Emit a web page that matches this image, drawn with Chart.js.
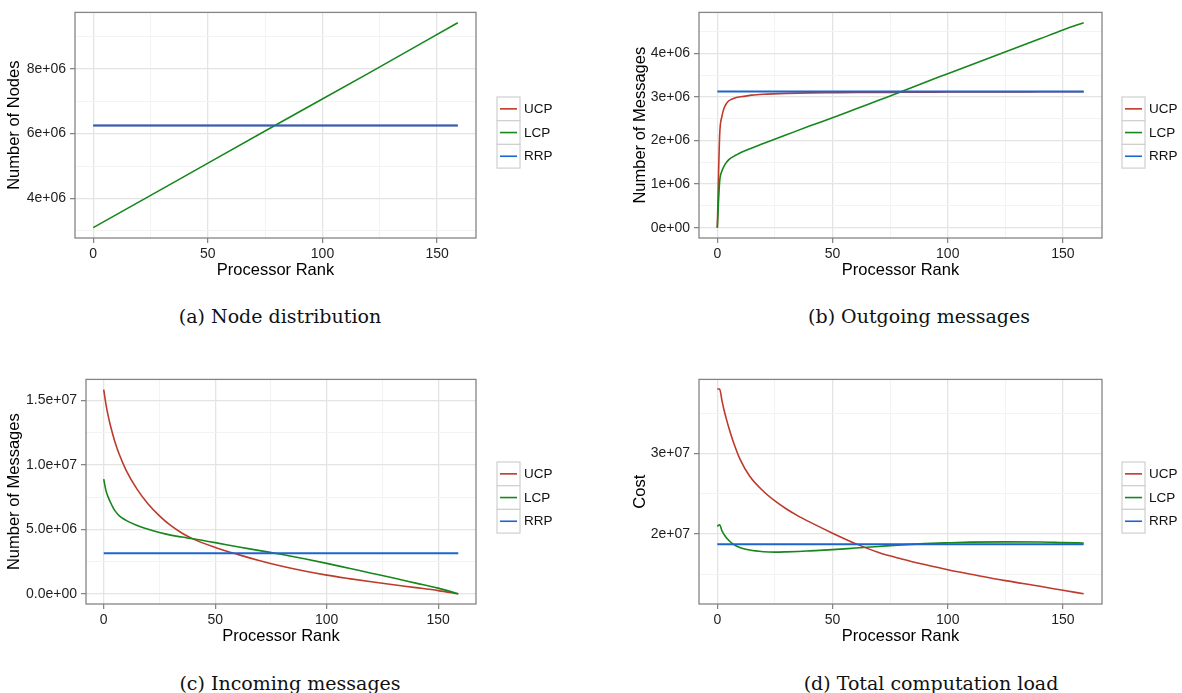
<!DOCTYPE html>
<html>
<head>
<meta charset="utf-8">
<script src="https://cdn.jsdelivr.net/npm/chart.js@4.4.1/dist/chart.umd.min.js"></script>
<style>
  body { margin: 0; background: #fff; width: 1182px; height: 693px; position: relative; overflow: hidden; }
  canvas { position: absolute; }
  .cap { position: absolute; width: 420px; text-align: center; white-space: pre;
         font-family: "DejaVu Serif", "Liberation Serif", serif; font-size: 19px; line-height: 24px; color: #111; }
</style>
</head>
<body>
<canvas id="nodes" width="591" height="285" style="left:0;top:0"></canvas>
<canvas id="outgoing" width="591" height="285" style="left:591px;top:0"></canvas>
<canvas id="incoming" width="591" height="284" style="left:0;top:367px"></canvas>
<canvas id="cost" width="591" height="284" style="left:591px;top:367px"></canvas>
<div class="cap" style="left:70px;top:304px">(a) Node distribution</div>
<div class="cap" style="left:709px;top:304px">(b) Outgoing messages</div>
<div class="cap" style="left:80px;top:671px">(c) Incoming messages</div>
<div class="cap" style="left:721px;top:671px">(d) Total computation load</div>
<script>
var seriesNames = ["UCP", "LCP", "RRP"];
var seriesColors = ["#bd3a2c", "#17861b", "#1d64cf"];
var seriesWidths = [1.6, 1.6, 2];

var xTicks = [0, 50, 100, 150];
var xMinor = [25, 75, 125];

// (a) node distribution
var nodeRank = [0, 40, 80, 120, 159];
var nodeUCP = [6.25e6, 6.25e6, 6.25e6, 6.25e6, 6.25e6];
var nodeLCP = [3.10e6, 4.69e6, 6.28e6, 7.86e6, 9.42e6];
var nodeRRP = [6.25e6, 6.25e6, 6.25e6, 6.25e6, 6.25e6];
var nodeTicks = [4e6, 6e6, 8e6];
var nodeLabels = ["4e+06", "6e+06", "8e+06"];
var nodeMinor = [3e6, 5e6, 7e6, 9e6];

// (b) outgoing messages
var outRank = [0, 1, 2, 3, 4, 5, 6, 8, 10, 15, 20, 30, 40, 50, 60, 70, 80, 90, 100, 110, 120, 130, 140, 150, 159];
var outUCP = [0, 2.10e6, 2.55e6, 2.75e6, 2.85e6, 2.91e6, 2.94e6, 2.98e6, 3.00e6, 3.04e6, 3.06e6, 3.08e6, 3.09e6, 3.095e6,
              3.10e6, 3.10e6, 3.105e6, 3.105e6, 3.11e6, 3.11e6, 3.11e6, 3.11e6, 3.115e6, 3.115e6, 3.115e6];
var outLCP = [0, 1.05e6, 1.30e6, 1.42e6, 1.50e6, 1.56e6, 1.60e6, 1.66e6, 1.72e6, 1.83e6, 1.93e6, 2.13e6, 2.33e6, 2.52e6,
              2.72e6, 2.92e6, 3.12e6, 3.33e6, 3.53e6, 3.73e6, 3.93e6, 4.13e6, 4.33e6, 4.53e6, 4.70e6];
var outRRP = [3.12e6, 3.12e6, 3.12e6, 3.12e6, 3.12e6, 3.12e6, 3.12e6, 3.12e6, 3.12e6, 3.12e6, 3.12e6, 3.12e6, 3.12e6, 3.12e6,
              3.12e6, 3.12e6, 3.12e6, 3.12e6, 3.12e6, 3.12e6, 3.12e6, 3.12e6, 3.12e6, 3.12e6, 3.12e6];
var outTicks = [0, 1e6, 2e6, 3e6, 4e6];
var outLabels = ["0e+00", "1e+06", "2e+06", "3e+06", "4e+06"];
var outMinor = [0.5e6, 1.5e6, 2.5e6, 3.5e6, 4.5e6];

// (c) incoming messages
var inRank = [0, 1, 2, 3, 4, 5, 7, 10, 15, 20, 25, 30, 35, 40, 50, 60, 70, 80, 90, 100, 110, 120, 130, 140, 150, 159];
var inUCP = [15.84e6, 14.7e6, 13.8e6, 13.05e6, 12.4e6, 11.8e6, 10.8e6, 9.6e6, 8.1e6, 6.95e6, 6.05e6, 5.3e6, 4.72e6, 4.26e6,
             3.6e6, 3.06e6, 2.57e6, 2.14e6, 1.77e6, 1.45e6, 1.18e6, 0.93e6, 0.70e6, 0.48e6, 0.25e6, 0];
var inLCP = [8.9e6, 8.0e6, 7.5e6, 7.1e6, 6.75e6, 6.45e6, 6.05e6, 5.7e6, 5.3e6, 5.0e6, 4.75e6, 4.55e6, 4.4e6, 4.27e6,
             3.97e6, 3.65e6, 3.35e6, 3.05e6, 2.72e6, 2.36e6, 1.98e6, 1.60e6, 1.22e6, 0.83e6, 0.44e6, 0];
var inRRP = [3.14e6, 3.14e6, 3.14e6, 3.14e6, 3.14e6, 3.14e6, 3.14e6, 3.14e6, 3.14e6, 3.14e6, 3.14e6, 3.14e6, 3.14e6, 3.14e6,
             3.14e6, 3.14e6, 3.14e6, 3.14e6, 3.14e6, 3.14e6, 3.14e6, 3.14e6, 3.14e6, 3.14e6, 3.14e6, 3.14e6];
var inTicks = [0, 5e6, 1e7, 1.5e7];
var inLabels = ["0.0e+00", "5.0e+06", "1.0e+07", "1.5e+07"];
var inMinor = [2.5e6, 7.5e6, 1.25e7];

// (d) total computation load
var costRank = [0, 1, 2, 3, 4, 5, 7, 10, 14, 20, 25, 30, 35, 40, 50, 60, 70, 80, 90, 100, 110, 125, 140, 150, 159];
var costUCP = [3.80e7, 3.80e7, 3.66e7, 3.53e7, 3.42e7, 3.32e7, 3.14e7, 2.92e7, 2.72e7, 2.53e7, 2.41e7, 2.31e7, 2.225e7, 2.15e7,
               2.01e7, 1.88e7, 1.77e7, 1.69e7, 1.62e7, 1.555e7, 1.50e7, 1.42e7, 1.35e7, 1.30e7, 1.257e7];
var costLCP = [2.095e7, 2.115e7, 2.04e7, 1.99e7, 1.95e7, 1.92e7, 1.87e7, 1.83e7, 1.80e7, 1.78e7, 1.775e7, 1.778e7, 1.783e7, 1.79e7,
               1.805e7, 1.825e7, 1.845e7, 1.865e7, 1.88e7, 1.89e7, 1.898e7, 1.902e7, 1.90e7, 1.893e7, 1.887e7];
var costRRP = [1.872e7, 1.872e7, 1.872e7, 1.872e7, 1.872e7, 1.872e7, 1.872e7, 1.872e7, 1.872e7, 1.872e7, 1.872e7, 1.872e7, 1.872e7, 1.872e7,
               1.872e7, 1.872e7, 1.872e7, 1.872e7, 1.872e7, 1.872e7, 1.872e7, 1.872e7, 1.872e7, 1.872e7, 1.872e7];
var costTicks = [2e7, 3e7];
var costLabels = ["2e+07", "3e+07"];
var costMinor = [1.5e7, 2.5e7, 3.5e7];

var fontFamily = "'Liberation Sans', Arial, sans-serif";

// grey panel border drawn over the lines, like ggplot's theme_bw
var frame = {
  id: "frame",
  afterDatasetsDraw: function(chart) {
    var a = chart.chartArea, ctx = chart.ctx;
    ctx.save();
    ctx.strokeStyle = "#858585";
    ctx.lineWidth = 1.3;
    ctx.strokeRect(a.left, a.top, a.right - a.left, a.bottom - a.top);
    ctx.restore();
  }
};

// legend with one boxed key per series
var keyBoxes = {
  id: "keyBoxes",
  afterDraw: function(chart, args, o) {
    var ctx = chart.ctx;
    ctx.save();
    chart.data.datasets.forEach(function(ds, i) {
      var top = o.y + i * o.h;
      ctx.fillStyle = "#fff";
      ctx.fillRect(o.x, top, o.w, o.h);
      ctx.strokeStyle = "#cfcfcf";
      ctx.lineWidth = 1.2;
      ctx.strokeRect(o.x, top, o.w, o.h);
      ctx.strokeStyle = ds.borderColor;
      ctx.lineWidth = 1.6;
      ctx.beginPath();
      ctx.moveTo(o.x + 3, top + o.h / 2);
      ctx.lineTo(o.x + o.w - 3, top + o.h / 2);
      ctx.stroke();
      ctx.fillStyle = "#111";
      ctx.font = "13.5px " + fontFamily;
      ctx.textBaseline = "middle";
      ctx.fillText(ds.label, o.x + o.w + 4, top + o.h / 2 + 0.5);
    });
    ctx.restore();
  }
};

function gridOf(majors) {
  function isMajor(c) { return c.tick && majors.indexOf(c.tick.value) >= 0; }
  return {
    color: function(c) { return isMajor(c) ? "#e4e4e4" : "#f3f3f3"; },
    lineWidth: function(c) { return isMajor(c) ? 1.3 : 1; },
    tickColor: function(c) { return isMajor(c) ? "#7f7f7f" : "rgba(0,0,0,0)"; },
    tickWidth: 1.2,
    tickLength: 5
  };
}

function axisOf(majors, minors, labels) {
  return {
    afterBuildTicks: function(s) {
      s.ticks = majors.concat(minors).sort(function(a, b) { return a - b; })
        .map(function(v) { return { value: v }; });
    },
    callback: function(v) {
      var k = majors.indexOf(v);
      return k >= 0 ? labels[k] : "";
    }
  };
}

function panel(id, ranks, values, yMin, yMax, majors, minors, labels, yTitle, lay) {
  var xa = axisOf(xTicks, xMinor, xTicks.map(String));
  var ya = axisOf(majors, minors, labels);
  new Chart(id, {
    type: "line",
    data: {
      datasets: values.map(function(v, i) {
        return {
          label: seriesNames[i],
          data: v.map(function(val, j) { return { x: ranks[j], y: val }; }),
          borderColor: seriesColors[i],
          borderWidth: seriesWidths[i],
          pointRadius: 0,
          cubicInterpolationMode: "monotone",
          order: 3 - i
        };
      })
    },
    options: {
      responsive: false,
      animation: false,
      layout: { padding: { left: 0, top: lay.top, right: lay.right, bottom: 0 } },
      plugins: {
        legend: { display: false },
        tooltip: { enabled: false },
        keyBoxes: { x: lay.keyX, y: lay.keyY, w: 23, h: 23.7 }
      },
      scales: {
        x: {
          type: "linear",
          min: -7.95,
          max: 166.95,
          afterBuildTicks: xa.afterBuildTicks,
          afterFit: function(s) { s.height = 47; },
          ticks: { callback: xa.callback, autoSkip: false, maxRotation: 0, padding: 3,
                   color: "#1e1e1e", font: { family: fontFamily, size: 14 } },
          grid: gridOf(xTicks),
          border: { display: false },
          title: { display: true, text: "Processor Rank", color: "#000",
                   font: { family: fontFamily, size: 16.5 }, padding: { top: 0, bottom: 5 } }
        },
        y: {
          type: "linear",
          min: yMin,
          max: yMax,
          afterBuildTicks: ya.afterBuildTicks,
          afterFit: function(s) { s.width = lay.yWidth; },
          ticks: { callback: ya.callback, autoSkip: false, padding: 4,
                   color: "#1e1e1e", font: { family: fontFamily, size: 14 } },
          grid: gridOf(majors),
          border: { display: false },
          title: { display: true, text: yTitle, color: "#000",
                   font: { family: fontFamily, size: 16.5 }, padding: { top: lay.titlePad, bottom: 0 } }
        }
      }
    },
    plugins: [frame, keyBoxes]
  });
}

panel("nodes", nodeRank, [nodeUCP, nodeLCP, nodeRRP], 2.78e6, 9.74e6, nodeTicks, nodeMinor, nodeLabels,
      "Number of Nodes", { top: 11, right: 115, yWidth: 75, titlePad: 5, keyX: 497, keyY: 97 });
panel("outgoing", outRank, [outUCP, outLCP, outRRP], -0.235e6, 4.935e6, outTicks, outMinor, outLabels,
      "Number of Messages", { top: 11, right: 80, yWidth: 108, titlePad: 40, keyX: 531, keyY: 97 });
panel("incoming", inRank, [inUCP, inLCP, inRRP], -0.79e6, 16.63e6, inTicks, inMinor, inLabels,
      "Number of Messages", { top: 10, right: 115, yWidth: 86, titlePad: 5, keyX: 497, keyY: 95 });
panel("cost", costRank, [costUCP, costLCP, costRRP], 1.13e7, 3.92e7, costTicks, costMinor, costLabels,
      "Cost", { top: 10, right: 80, yWidth: 108, titlePad: 40, keyX: 531, keyY: 95 });
</script>
</body>
</html>
